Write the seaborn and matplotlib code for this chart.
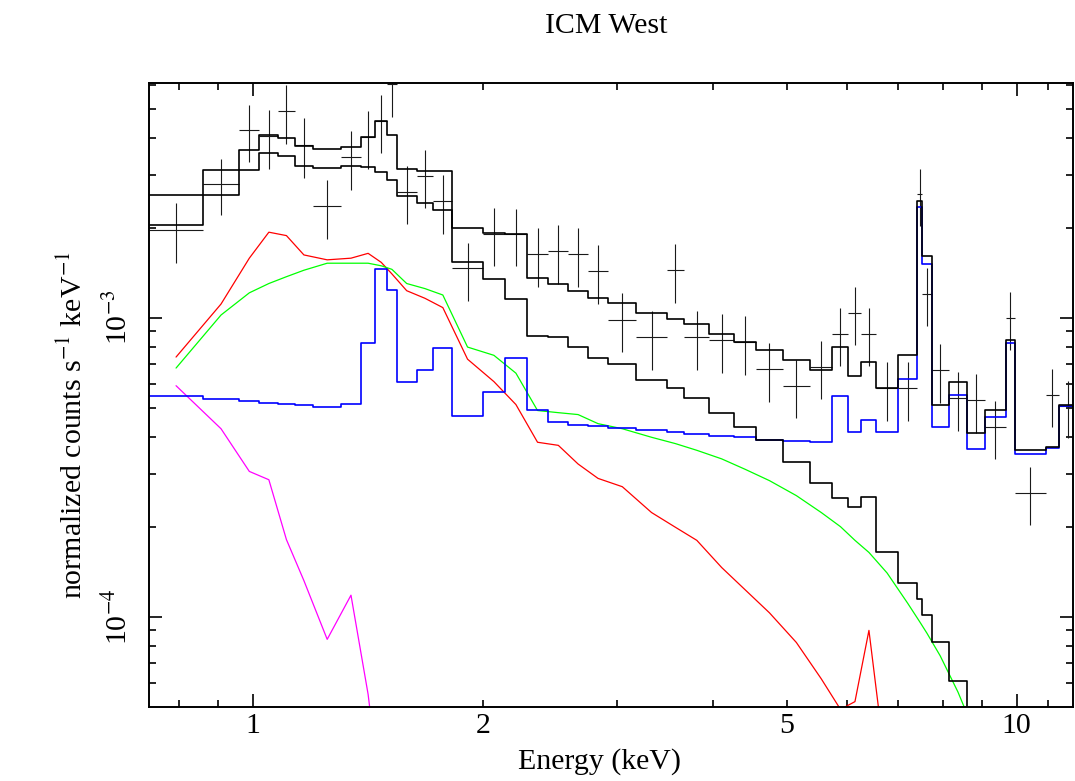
import numpy as np
import matplotlib
matplotlib.use("Agg")
import matplotlib.pyplot as plt
from matplotlib.ticker import FixedLocator, FixedFormatter
import seaborn as sns

# channel bin edges in keV (data and models share them)
energy_edges = [0.732, 0.860, 0.960, 1.020, 1.080, 1.134, 1.200, 1.305, 1.385, 1.447,
                1.499, 1.543, 1.639, 1.723, 1.825, 2.000, 2.139, 2.284, 2.437, 2.589,
                2.745, 2.920, 3.178, 3.482, 3.672, 3.960, 4.266, 4.562, 4.940, 5.364,
                5.740, 6.023, 6.264, 6.553, 6.988, 7.416, 7.524, 7.742, 8.147, 8.617,
                9.089, 9.674, 9.949, 10.914, 11.369, 12.0]

# everything below is in units of 1e-3 counts s^-1 keV^-1
data_rate = [1.97, 2.80, 4.23, 4.04, 4.90, 3.79, 2.36, 3.44, 4.02, 4.56,
             6.02, 2.63, 2.98, 2.45, 1.46, 1.91, 1.90, 1.63, 1.67, 1.63,
             1.43, 0.985, 0.86, 1.44, 0.86, 0.84, 0.83, 0.674, 0.592, 0.684,
             0.882, 1.04, 0.882, 0.582, 0.582, 2.58, 1.20, 0.666, 0.539, 0.529,
             0.431, 1.00, 0.260, 0.553, 0.505]
data_err = [0.445, 0.60, 0.925, 0.90, 1.10, 0.85, 0.53, 0.76, 0.88, 1.00,
            1.33, 0.58, 0.66, 0.54, 0.32, 0.42, 0.41, 0.36, 0.37, 0.36,
            0.32, 0.22, 0.19, 0.32, 0.19, 0.185, 0.185, 0.15, 0.13, 0.15,
            0.195, 0.23, 0.195, 0.13, 0.13, 0.56, 0.26, 0.147, 0.12, 0.117,
            0.095, 0.22, 0.057, 0.122, 0.11]

model_total = [2.56, 2.56, 3.62, 4.07, 3.99, 3.74, 3.66, 3.73, 4.02, 4.53,
               4.09, 3.15, 3.09, 3.09, 2.00, 1.92, 1.90, 1.36, 1.30, 1.23,
               1.16, 1.12, 1.04, 0.99, 0.95, 0.88, 0.83, 0.78, 0.72, 0.67,
               0.80, 0.64, 0.71, 0.58, 0.75, 2.45, 1.61, 0.51, 0.61, 0.41,
               0.49, 0.84, 0.36, 0.37, 0.51]
model_src = [2.04, 3.11, 3.11, 3.56, 3.48, 3.22, 3.16, 3.22, 3.19, 3.06,
             2.89, 2.55, 2.42, 2.29, 1.53, 1.35, 1.15, 0.87, 0.86, 0.80,
             0.73, 0.70, 0.62, 0.58, 0.54, 0.48, 0.43, 0.39, 0.33, 0.28,
             0.249, 0.233, 0.251, 0.165, 0.130, 0.115, 0.101, 0.082, 0.061, 0.040,
             np.nan, np.nan, np.nan, np.nan, np.nan]
model_bkg = [0.545, 0.533, 0.527, 0.520, 0.514, 0.509, 0.504, 0.513, 0.82, 1.45,
             1.24, 0.61, 0.67, 0.79, 0.47, 0.566, 0.73, 0.49, 0.449, 0.438,
             0.433, 0.428, 0.420, 0.413, 0.408, 0.403, 0.398, 0.391, 0.388, 0.385,
             0.548, 0.415, 0.456, 0.416, 0.624, 2.35, 1.51, 0.430, 0.551, 0.364,
             0.464, 0.823, 0.349, 0.366, 0.505]

# additive components, drawn at bin centres
comp_green = [0.678, 1.02, 1.21, 1.30, 1.37, 1.44, 1.52, 1.52, 1.52, 1.49,
              1.45, 1.30, 1.25, 1.19, 0.797, 0.748, 0.652, 0.489, 0.481, 0.474,
              0.442, 0.425, 0.398, 0.379, 0.360, 0.337, 0.311, 0.285, 0.254, 0.223,
              0.200, 0.180, 0.164, 0.140, 0.111, 0.096, 0.088, 0.074, 0.056, 0.040,
              np.nan, np.nan, np.nan, np.nan, np.nan]
comp_red = [0.738, 1.11, 1.58, 1.93, 1.88, 1.62, 1.56, 1.58, 1.64, 1.53,
            1.40, 1.23, 1.16, 1.08, 0.726, 0.611, 0.512, 0.383, 0.374, 0.324,
            0.290, 0.272, 0.223, 0.199, 0.180, 0.146, 0.123, 0.103, 0.082, 0.062,
            0.049, 0.052, 0.090, 0.029, np.nan, np.nan, np.nan, np.nan, np.nan, np.nan,
            np.nan, np.nan, np.nan, np.nan, np.nan]
comp_magenta = [0.592, 0.425, 0.306, 0.287, 0.181, 0.132, 0.084, 0.118, 0.055, 0.024,
                np.nan, np.nan, np.nan, np.nan, np.nan, np.nan, np.nan, np.nan, np.nan, np.nan,
                np.nan, np.nan, np.nan, np.nan, np.nan, np.nan, np.nan, np.nan, np.nan, np.nan,
                np.nan, np.nan, np.nan, np.nan, np.nan, np.nan, np.nan, np.nan, np.nan, np.nan,
                np.nan, np.nan, np.nan, np.nan, np.nan]

x_major_ticks = [1, 10]
x_major_labels = ["1", "10"]
x_minor_ticks = [0.8, 0.9, 2, 3, 4, 5, 6, 7, 8, 9, 11]
x_minor_labels = ["", "", "2", "", "", "5", "", "", "", "", ""]
y_major_ticks = [1e-4, 1e-3]
y_major_labels = [r"10$^{-4}$", r"10$^{-3}$"]
y_minor_ticks = [6e-5, 7e-5, 8e-5, 9e-5, 2e-4, 3e-4, 4e-4, 5e-4, 6e-4, 7e-4,
                 8e-4, 9e-4, 2e-3, 3e-3, 4e-3, 5e-3, 6e-3]

UNIT = 1e-3

sns.set_style("ticks")
plt.rcParams['font.family'] = ['Liberation Serif', 'DejaVu Serif']
plt.rcParams['mathtext.fontset'] = 'stix'
plt.rcParams['text.color'] = 'black'
plt.rcParams['axes.labelcolor'] = 'black'
plt.rcParams['xtick.color'] = 'black'
plt.rcParams['ytick.color'] = 'black'

edges = np.array(energy_edges)
lo, hi = edges[:-1], edges[1:]
centers = np.sqrt(lo * hi)


def draw_steps(ax, vals, color, lw):
    y = np.array(vals, dtype=float) * UNIT
    y = np.append(y, y[-1])
    sns.lineplot(x=edges, y=y, drawstyle='steps-post', color=color, lw=lw,
                 estimator=None, sort=False, ax=ax)


def draw_line(ax, vals, color, lw):
    sns.lineplot(x=centers, y=np.array(vals, dtype=float) * UNIT, color=color,
                 lw=lw, estimator=None, sort=False, ax=ax)


fig = plt.figure(figsize=(10.75, 7.81), dpi=100)
ax = fig.add_axes([0.1389, 0.0951, 0.8597, 0.7990])
ax.set_xscale('log')
ax.set_yscale('log')

rate = np.array(data_rate) * UNIT
err = np.array(data_err) * UNIT
ax.errorbar(centers, rate, yerr=err, xerr=[centers - lo, hi - centers],
            fmt='none', ecolor='#1a1a1a', elinewidth=0.8, capsize=0)

draw_line(ax, comp_magenta, '#ff00ff', 0.9)
draw_line(ax, comp_red, '#ff0000', 0.9)
draw_line(ax, comp_green, '#00ff00', 0.9)
draw_steps(ax, model_bkg, '#0000ff', 1.2)
draw_steps(ax, model_src, 'black', 1.2)
draw_steps(ax, model_total, 'black', 1.2)

ax.set_xlim(0.732, 11.87)
ax.set_ylim(5.0e-5, 6.1e-3)

ax.xaxis.set_major_locator(FixedLocator(x_major_ticks))
ax.xaxis.set_major_formatter(FixedFormatter(x_major_labels))
ax.xaxis.set_minor_locator(FixedLocator(x_minor_ticks))
ax.xaxis.set_minor_formatter(FixedFormatter(x_minor_labels))
ax.yaxis.set_major_locator(FixedLocator(y_major_ticks))
ax.yaxis.set_major_formatter(FixedFormatter(y_major_labels))
ax.yaxis.set_minor_locator(FixedLocator(y_minor_ticks))
ax.yaxis.set_minor_formatter(FixedFormatter([""] * len(y_minor_ticks)))

ax.tick_params(which='both', direction='in', top=True, right=True,
               width=1.2, color='black', labelsize=21.5, labelcolor='black')
ax.tick_params(which='major', length=9.5)
ax.tick_params(which='minor', length=5)
ax.tick_params(axis='x', which='both', pad=4.5)
ax.tick_params(axis='y', which='both', labelrotation=90, pad=12)
for lab in ax.get_yticklabels():
    lab.set_verticalalignment('center')
for s in ax.spines.values():
    s.set_linewidth(1.4)
    s.set_color('black')

ax.set_xlabel('Energy (keV)', fontsize=21.5, color='black')
ax.set_ylabel(r'normalized counts s$^{-1}$ keV$^{-1}$', fontsize=21.5, color='black')
ax.xaxis.set_label_coords(0.4869, -0.066)
ax.yaxis.set_label_coords(-0.0664, 0.4514)
ax.set_title('ICM West', fontsize=21.5, x=0.4944, pad=35.5, color='black')

fig.savefig('out.png', dpi=100)
